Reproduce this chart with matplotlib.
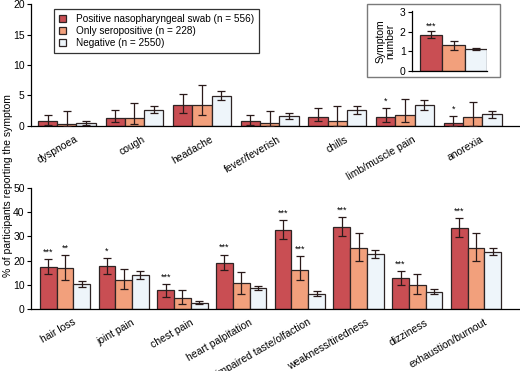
import numpy as np
import matplotlib
matplotlib.use('Agg')
import matplotlib.pyplot as plt
from matplotlib.transforms import ScaledTranslation
from matplotlib.patches import Rectangle

plt.rcParams['font.family'] = ['Liberation Sans', 'DejaVu Sans']

# Dados
grupos = ["Positive nasopharyngeal swab (n = 556)", "Only seropositive (n = 228)", "Negative (n = 2550)"]
cores = ["#c94e53", "#f2a07c", "#eef5fa"]

sintomas_topo = ["dyspnoea", "cough", "headache", "fever/feverish", "chills", "limb/muscle pain", "anorexia"]
topo_val = [
    [0.75, 1.25, 3.4, 0.75, 1.5, 1.5, 0.55],
    [0.4, 1.3, 3.5, 0.45, 0.9, 1.8, 1.4],
    [0.45, 2.6, 4.9, 1.6, 2.6, 3.4, 1.9],
]
topo_inf = [
    [0.2, 0.6, 2.2, 0.2, 0.75, 0.7, 0.0],
    [0.0, 0.4, 1.8, 0.0, 0.0, 0.7, 0.0],
    [0.2, 2.1, 4.2, 1.1, 2.0, 2.7, 1.3],
]
topo_sup = [
    [1.8, 2.6, 5.3, 1.85, 2.9, 2.9, 1.6],
    [2.4, 3.8, 6.8, 2.5, 3.2, 4.5, 3.9],
    [0.8, 3.3, 5.8, 2.1, 3.2, 4.3, 2.5],
]
topo_estrelas = [
    ["", "", "", "", "", "*", "*"],
    ["", "", "", "", "", "", ""],
    ["", "", "", "", "", "", ""],
]

sintomas_baixo = ["hair loss", "joint pain", "chest pain", "heart palpitation",
                  "impaired taste/olfaction", "weakness/tiredness", "dizziness", "exhaustion/burnout"]
baixo_val = [
    [17.3, 17.6, 7.7, 19.0, 32.8, 34.0, 12.7, 33.5],
    [16.8, 11.8, 4.4, 10.6, 16.3, 25.2, 9.8, 25.2],
    [10.5, 14.0, 2.5, 8.7, 6.3, 22.6, 7.2, 23.6],
]
baixo_inf = [
    [14.5, 14.5, 5.1, 16.0, 29.1, 30.2, 9.9, 29.8],
    [12.1, 8.1, 2.2, 6.1, 12.0, 19.8, 6.3, 19.8],
    [9.1, 12.4, 1.9, 7.7, 5.5, 20.9, 6.2, 22.2],
]
baixo_sup = [
    [20.7, 21.1, 10.3, 22.5, 36.8, 38.0, 15.7, 37.6],
    [22.2, 16.7, 7.9, 15.2, 21.9, 31.3, 14.3, 31.3],
    [11.7, 15.7, 3.2, 9.6, 7.3, 24.2, 8.1, 25.3],
]
baixo_estrelas = [
    ["***", "*", "***", "***", "***", "***", "***", "***"],
    ["**", "", "", "", "***", "", "", ""],
    ["", "", "", "", "", "", "", ""],
]

inset_val = [1.83, 1.31, 1.11]
inset_inf = [1.66, 1.07, 1.06]
inset_sup = [2.01, 1.52, 1.17]
inset_estrelas = ["***", "", ""]

FS = 7.5
LARG = 0.285
BORDA = "#2e2424"


def desenhar_painel(ax, nomes, valores, inf, sup, estrelas, ymax, passo, xlim, deslocar_label):
    x = np.arange(len(nomes))
    for g in range(3):
        pos = x + (g - 1) * LARG
        v = np.array(valores[g])
        err = [v - np.array(inf[g]), np.array(sup[g]) - v]
        ax.bar(pos, v, LARG, color=cores[g], edgecolor=BORDA, linewidth=0.9,
               label=grupos[g], zorder=2)
        ax.errorbar(pos, v, yerr=err, fmt='none', ecolor='#2a1a1a', elinewidth=0.9,
                    capsize=2.6, capthick=0.9, zorder=3)
        for p, s, top in zip(pos, estrelas[g], sup[g]):
            if s:
                ax.text(p, top + ymax * 0.02, s, ha='center', va='bottom', fontsize=6.5)
    ax.set_xlim(*xlim)
    ax.set_ylim(0, ymax)
    ax.set_yticks(np.arange(0, ymax + 0.1, passo))
    ax.set_xticks(x)
    ax.set_xticklabels(nomes, rotation=30, ha='right', va='center', rotation_mode='anchor')
    ax.tick_params(axis='x', length=0, pad=9, labelsize=FS)
    ax.tick_params(axis='y', direction='out', length=3, width=0.8, pad=1.5, labelsize=FS)
    for lab in ax.get_xticklabels():
        lab.set_transform(lab.get_transform() + ScaledTranslation(deslocar_label / 100, 0, ax.figure.dpi_scale_trans))
    for lado in ['top', 'right']:
        ax.spines[lado].set_visible(False)
    for lado in ['left', 'bottom']:
        ax.spines[lado].set_linewidth(0.9)
    ax.set_facecolor('none')


fig = plt.figure(figsize=(5.2, 3.71), dpi=100)

ax1 = fig.add_axes([0.0596, 0.6604, 0.9404, 0.3288])
desenhar_painel(ax1, sintomas_topo, topo_val, topo_inf, topo_sup, topo_estrelas,
                20, 5, (-0.53, 6.7), 10)

ax2 = fig.add_axes([0.0596, 0.1671, 0.9404, 0.3261])
desenhar_painel(ax2, sintomas_baixo, baixo_val, baixo_inf, baixo_sup, baixo_estrelas,
                50, 10, (-0.58, 7.75), 10)

leg = ax1.legend(loc='upper left', bbox_to_anchor=(0.037, 1.0), fontsize=7.2,
                 frameon=True, fancybox=False, edgecolor='black', handlelength=0.7,
                 handleheight=0.7, handletextpad=1.0, borderpad=0.5, labelspacing=0.2)
leg.get_frame().set_linewidth(0.9)

fig.text(0.016, 0.5, "% of participants reporting the symptom", rotation=90,
         ha='center', va='center', fontsize=FS)

# Caixa do inset
fig.patches.append(Rectangle((0.7058, 0.7925), 0.2558, 0.1968, transform=fig.transFigure,
                             fill=True, facecolor='white', edgecolor='#7a7a7a', linewidth=1.0,
                             zorder=5))

ax3 = fig.add_axes([0.7923, 0.8086, 0.1442, 0.1617], zorder=6)
xi = np.arange(3)
vi = np.array(inset_val)
ax3.bar(xi, vi, 1.0, color=cores, edgecolor=BORDA, linewidth=0.9, zorder=2)
ax3.errorbar(xi, vi, yerr=[vi - np.array(inset_inf), np.array(inset_sup) - vi], fmt='none',
             ecolor='#2a1a1a', elinewidth=0.9, capsize=2.6, capthick=0.9, zorder=3)
for p, s, top in zip(xi, inset_estrelas, inset_sup):
    if s:
        ax3.text(p, top + 0.05, s, ha='center', va='bottom', fontsize=6.5)
ax3.set_xlim(-0.86, 2.5)
ax3.set_ylim(0, 3.05)
ax3.set_yticks([0, 1, 2, 3])
ax3.set_xticks([])
ax3.tick_params(axis='y', direction='out', length=3, width=0.8, pad=1.5, labelsize=FS)
for lado in ['top', 'right']:
    ax3.spines[lado].set_visible(False)
ax3.spines['left'].set_linewidth(0.9)
ax3.spines['bottom'].set_linewidth(0.9)
ax3.set_facecolor('none')
ax3.set_ylabel("Symptom\nnumber", fontsize=FS, labelpad=3, linespacing=1.0)

fig.savefig("out.png", dpi=100)
